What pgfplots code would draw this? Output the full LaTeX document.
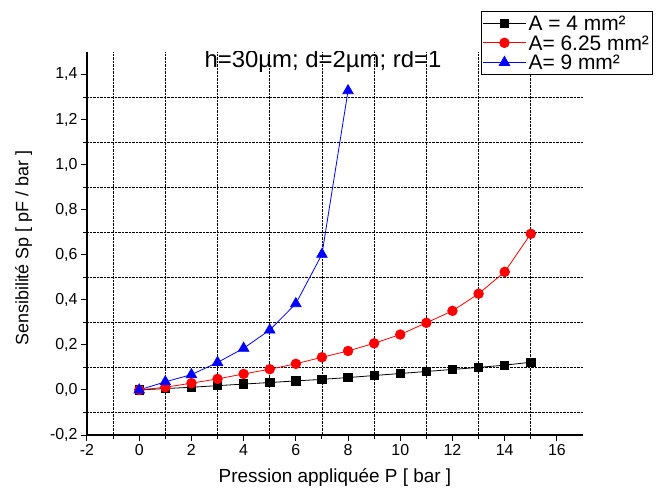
\documentclass[border=0pt]{standalone}
\usepackage{fontspec}
\setmainfont{Liberation Sans}
\usepackage{pgfplots}
\pgfplotsset{compat=1.18}
\begin{document}
\begin{tikzpicture}
\begin{axis}[
  scale only axis,
  width=496bp, height=383bp,
  xmin=-2, xmax=17, ymin=-0.2, ymax=1.5,
  axis lines=left,
  axis line style={-, line width=1.2bp},
  xtick={-2,0,...,16},
  ytick={-0.2,0,0.2,0.4,0.6,0.8,1.0,1.2,1.4},
  minor x tick num=1,
  minor y tick num=1,
  xminorgrids, yminorgrids,
  minor grid style={densely dotted, black, line width=0.6bp},
  tick align=outside,
  major tick length=6bp,
  minor tick length=4bp,
  every tick/.style={black, line width=1bp},
  /pgf/number format/assume math mode=true,
  xticklabel style={font=\fontsize{16}{18}\selectfont},
  yticklabel style={font=\fontsize{16}{18}\selectfont, /pgf/number format/.cd, fixed, fixed zerofill, precision=1, use comma},
  xlabel={Pression appliquée P [ bar ]},
  ylabel={Sensibilité Sp [ pF / bar ]},
  xlabel style={font=\fontsize{19}{22}\selectfont, at={(axis description cs:0.5,-0.112)}, anchor=center},
  ylabel style={font=\fontsize{18}{22}\selectfont, at={(axis description cs:-0.128,0.488)}, anchor=center},
  legend style={at={(1.141,1.107)}, anchor=north east, draw=black, line width=1bp,
    font=\fontsize{21}{23}\selectfont, inner xsep=1bp, inner ysep=2bp,
    nodes={inner sep=2.5bp, text depth=0pt},
    cells={anchor=west}, row sep=0bp},
  legend image code/.code={\draw[mark repeat=2,mark phase=2] plot coordinates {(0cm,0cm) (0.75cm,0cm) (1.5cm,0cm)};},
]
\addplot[black, line width=0.8bp, mark=square*, mark size=4.2bp, mark options={solid}] coordinates {
(0,0) (1,0.006) (2,0.012) (3,0.019) (4,0.026) (5,0.033) (6,0.040) (7,0.047) (8,0.055)
(9,0.064) (10,0.073) (11,0.082) (12,0.091) (13,0.100) (14,0.110) (15,0.123)};
\addlegendentry{A = 4 mm²}
\addplot[red, line width=0.8bp, mark=*, mark size=4.8bp, mark options={solid}] coordinates {
(0,0) (1,0.012) (2,0.030) (3,0.049) (4,0.071) (5,0.092) (6,0.116) (7,0.145) (8,0.173)
(9,0.207) (10,0.246) (11,0.298) (12,0.351) (13,0.427) (14,0.524) (15,0.693)};
\addlegendentry{A= 6.25 mm²}
\addplot[blue, line width=0.8bp, mark=triangle*, mark size=6bp, mark options={solid}] coordinates {
(0,0) (1,0.036) (2,0.068) (3,0.122) (4,0.185) (5,0.266) (6,0.383) (7,0.602) (8,1.328)};
\addlegendentry{A= 9 mm²}
\node[font=\fontsize{24}{26}\selectfont, anchor=base] at (axis cs:7.04,1.433) {h=30µm; d=2µm; rd=1};
\end{axis}
\pgfresetboundingbox
\path ([shift={(-87bp,-60bp)}]current axis.south west) rectangle ([shift={(80bp,52bp)}]current axis.north east);
\end{tikzpicture}
\end{document}
